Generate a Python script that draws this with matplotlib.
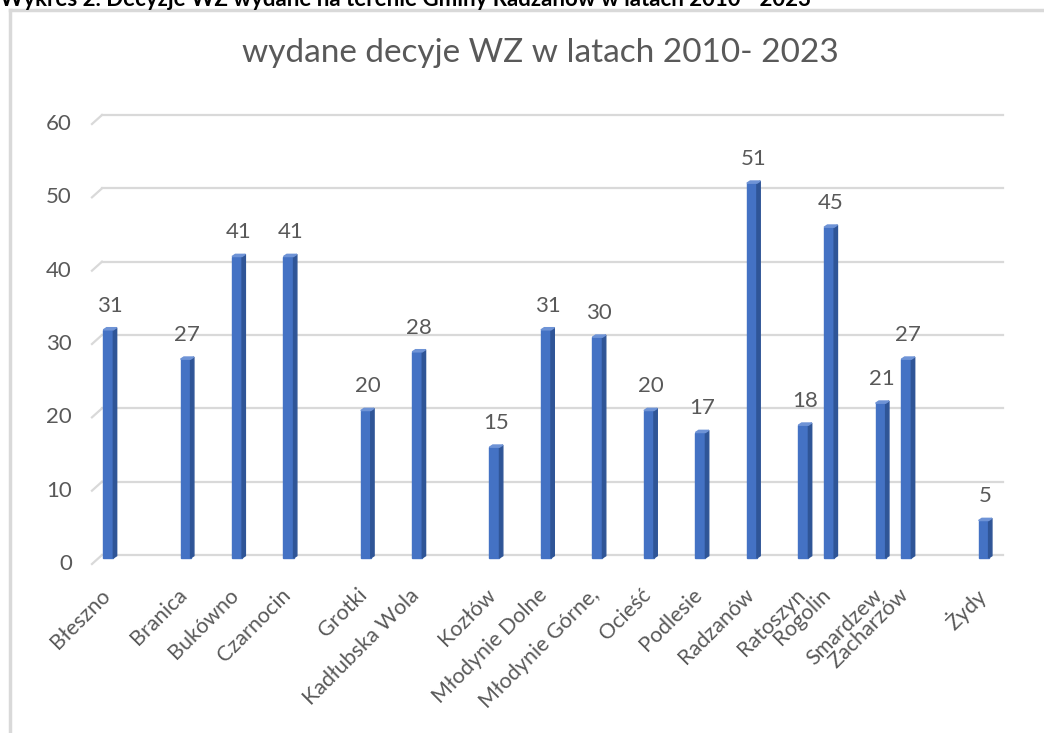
import matplotlib
matplotlib.use("Agg")
import matplotlib.pyplot as plt
from matplotlib.lines import Line2D

plt.rcParams["font.family"] = ["Lato", "DejaVu Sans"]

# dane z wykresu
miejscowosci = ["Błeszno", "Branica", "Bukówno", "Czarnocin", "Grotki", "Kadłubska Wola",
                "Kozłów", "Młodynie Dolne", "Młodynie Górne,", "Ocieść", "Podlesie",
                "Radzanów", "Ratoszyn", "Rogolin", "Smardzew", "Zacharzów", "Żydy"]
decyzje = [31, 27, 41, 41, 20, 28, 15, 31, 30, 20, 17, 51, 18, 45, 21, 27, 5]
# pozycje slupkow na osi (wykres grupowany z pustymi miejscami)
pozycje = [0, 3, 5, 7, 10, 12, 15, 17, 19, 21, 23, 25, 27, 28, 30, 31, 34]
yticks = [0, 10, 20, 30, 40, 50, 60]

text_col = "#595959"
grid_col = "#D9D9D9"
bar_col = "#4472C4"
side_col = "#2F5597"
top_col = "#6E93D6"

W, H = 1044, 733
fig = plt.figure(figsize=(W / 100, H / 100), dpi=100)
ax = fig.add_axes([102 / W, 1 - 555 / H, (1003 - 102) / W, (555 - 115) / H])
xl, xr = -0.31, 34.69
ax.set_xlim(xl, xr)
ax.set_ylim(0, 60)
ax.axis("off")

# siatka z "bocznym" odcinkiem (efekt 3D)
dx, dy = 0.39, 1.23
for v in yticks:
    ax.plot([xl, xr], [v, v], color=grid_col, lw=1.6, zorder=1, clip_on=False)
    ax.plot([xl - dx, xl], [v - dy, v], color=grid_col, lw=1.6, zorder=1, clip_on=False)
    ax.text(xl - 1.17, v - dy, str(v), ha="right", va="center", fontsize=16,
            color=text_col)

# slupki 3D
fw, sw, d = 0.39, 0.13, 0.3
for x, h in zip(pozycje, decyzje):
    x0 = x - 0.26
    x1 = x0 + fw
    ax.fill([x0, x1, x1, x0], [-0.4, -0.4, h - d, h - d], color=bar_col, zorder=3,
            clip_on=False)
    ax.fill([x1, x1 + sw, x1 + sw, x1], [-0.4, -0.4 + d, h, h - d], color=side_col,
            zorder=3, clip_on=False)
    ax.fill([x0, x1, x1 + sw, x0 + sw], [h - d, h - d, h, h], color=top_col, zorder=3)
    ax.annotate(str(h), xy=(x, h), xytext=(0, 12), textcoords="offset pixels",
                ha="center", va="bottom", fontsize=16, color=text_col)

# etykiety osi X
for x, name in zip(pozycje, miejscowosci):
    ax.annotate(name, xy=(x, 0), xytext=(-3, -37), textcoords="offset pixels",
                ha="right", va="center", rotation=45, rotation_mode="anchor",
                fontsize=15.5, color=text_col)

fig.text(540 / W, 1 - 53 / H, "wydane decyje WZ w latach 2010- 2023", ha="center",
         va="center", fontsize=24, color=text_col)
fig.text(0, 1 - 5.5 / H,
         "Wykres 2. Decyzje WZ wydane na terenie Gminy Radzanów w latach 2010 - 2023",
         ha="left", va="baseline", fontsize=16, fontweight="bold", color="black")

# ramka obszaru wykresu
fig.add_artist(Line2D([10 / W, 10 / W], [0, 1 - 10 / H], color=grid_col, lw=2.5))
fig.add_artist(Line2D([10 / W, 1], [1 - 10 / H, 1 - 10 / H], color=grid_col, lw=2.5))

fig.savefig("out.png", dpi=100)
